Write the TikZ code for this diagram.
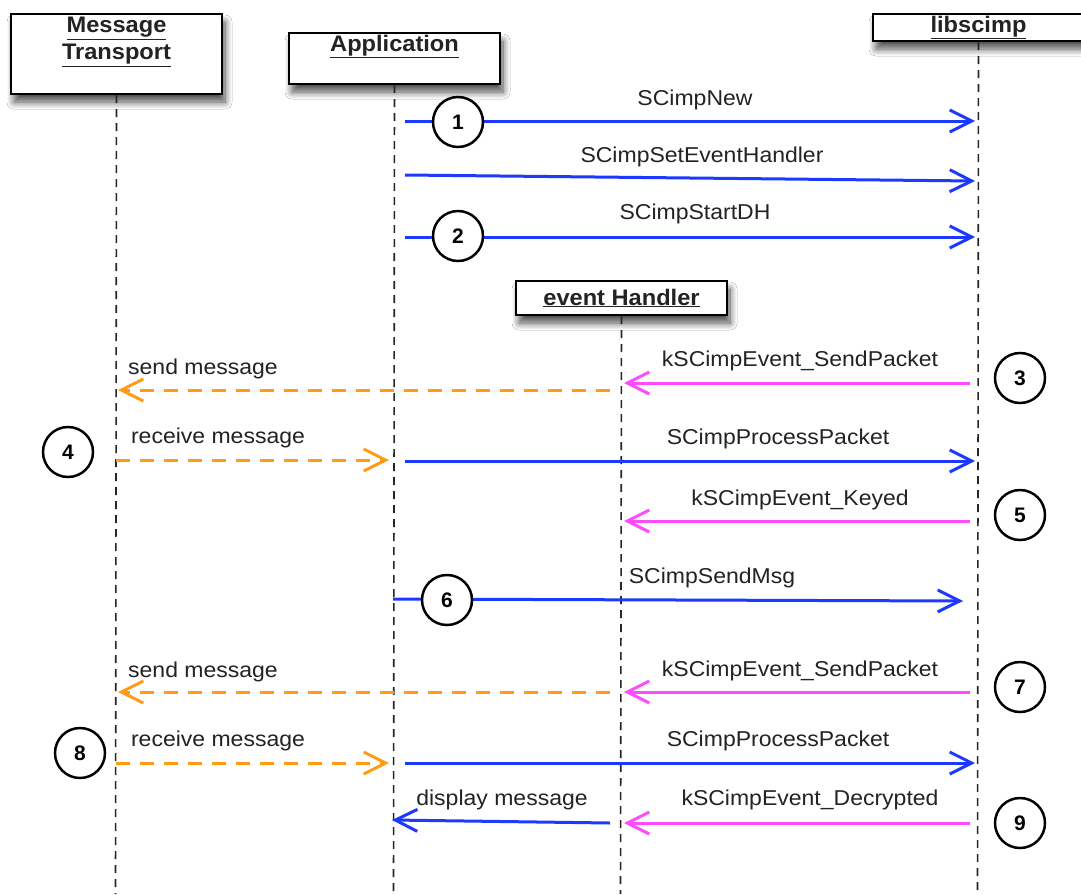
\documentclass[tikz,border=0pt]{standalone}
\usepackage{fontspec}
\setmainfont{Liberation Sans}
\newfontfamily\labfont{Liberation Sans}[FakeStretch=1.07]
\newfontfamily\titfont{Liberation Sans}[FakeStretch=1.05]
\usetikzlibrary{arrows.meta,shadows.blur}
\definecolor{msgblue}{RGB}{28,58,255}
\definecolor{evmag}{RGB}{255,75,255}
\definecolor{transor}{RGB}{255,155,20}
\definecolor{txt}{RGB}{35,35,35}
\newcommand{\ulin}[1]{\underline{#1}}
\begin{document}
\begin{tikzpicture}[x=1pt,y=-1pt,
  actor/.style={draw=black, line width=2pt, fill=white,
    blur shadow={shadow xshift=3pt, shadow yshift=-8pt, shadow blur radius=7pt, shadow blur steps=10, shadow opacity=70},
    minimum width=211pt, inner sep=0pt, anchor=north west},
  title/.style={font=\titfont\bfseries\fontsize{22.5}{25}\selectfont, align=center, inner sep=1pt, text=txt},
  life/.style={black!85, line width=1.6pt, dash pattern=on 8pt off 6pt},
  tip/.style={-{Straight Barb[length=22pt,width=22pt]}},
  callmsg/.style={msgblue, line width=3pt, tip},
  evmsg/.style={evmag, line width=3pt, tip},
  trmsg/.style={transor, line width=3pt, dash pattern=on 14pt off 10pt, tip},
  lab/.style={font=\labfont\fontsize{21.5}{24}\selectfont, text=txt, inner sep=0pt},
  num/.style={circle, draw=black, line width=2.5pt, fill=white, minimum size=50pt, inner sep=0pt, font=\bfseries\fontsize{21}{24}\selectfont}
]
\useasboundingbox[fill=white] (0,0) rectangle (1081,894);

% actors
\node[actor, minimum height=80pt] (mt) at (10,13) {};
\node[title, anchor=north] (mtT) at ([yshift=-3pt]mt.north) {\ulin{Message}\\[2pt]\ulin{Transport}};
\node[actor, minimum height=51pt] (app) at (288,32) {};
\node[title, anchor=north] (appT) at ([yshift=-2pt]app.north) {\ulin{Application}};
\node[actor, minimum height=27pt] (lib) at (872,13) {};
\node[title] (libT) at (lib.center) {\ulin{libscimp}};
\node[actor, minimum height=34pt] (eh) at (515,280) {};
\node[title] (ehT) at (eh.center) {\ulin{event Handler}};

% lifelines
\coordinate (mtB) at (115.5,894);
\coordinate (appB) at (393.5,894);
\coordinate (libB) at (977.5,894);
\coordinate (ehB) at (620.5,894);
\draw[life] (mt.south) -- (mtB);
\draw[life] (app.south) -- (appB);
\draw[life] (lib.south) -- (libB);
\draw[life] (eh.south) -- (ehB);

% message end points
\coordinate (a1s) at (405,121); \coordinate (a1e) at (975,121);
\coordinate (a2s) at (405,175); \coordinate (a2e) at (975,181);
\coordinate (a3s) at (405,237); \coordinate (a3e) at (975,237);
\coordinate (e1s) at (970,383); \coordinate (e1e) at (624,383);
\coordinate (t1s) at (610,390); \coordinate (t1e) at (118,390);
\coordinate (t2s) at (116,460); \coordinate (t2e) at (389,460);
\coordinate (a4s) at (405,461); \coordinate (a4e) at (975,461);
\coordinate (e2s) at (970,521); \coordinate (e2e) at (624,521);
\coordinate (a5s) at (393,599); \coordinate (a5e) at (963,601);
\coordinate (e3s) at (970,692); \coordinate (e3e) at (624,692);
\coordinate (t3s) at (610,692); \coordinate (t3e) at (118,692);
\coordinate (t4s) at (116,763); \coordinate (t4e) at (389,763);
\coordinate (a6s) at (405,763); \coordinate (a6e) at (975,763);
\coordinate (e4s) at (970,823); \coordinate (e4e) at (624,823);
\coordinate (a7s) at (610,823); \coordinate (a7e) at (392,820);

% messages
\draw[callmsg] (a1s) -- (a1e);
\draw[callmsg] (a2s) -- (a2e);
\draw[callmsg] (a3s) -- (a3e);
\draw[evmsg] (e1s) -- (e1e);
\draw[trmsg] (t1s) -- (t1e);
\draw[trmsg] (t2s) -- (t2e);
\draw[callmsg] (a4s) -- (a4e);
\draw[evmsg] (e2s) -- (e2e);
\draw[callmsg] (a5s) -- (a5e);
\draw[evmsg] (e3s) -- (e3e);
\draw[trmsg] (t3s) -- (t3e);
\draw[trmsg] (t4s) -- (t4e);
\draw[callmsg] (a6s) -- (a6e);
\draw[evmsg] (e4s) -- (e4e);
\draw[callmsg] (a7s) -- (a7e);

% labels
\node[lab] (l1) at (695,100) {SCimpNew};
\node[lab] (l2) at (702,157) {SCimpSetEventHandler};
\node[lab] (l3) at (695,214) {SCimpStartDH};
\node[lab] (l4) at (800,361) {kSCimpEvent\_SendPacket};
\node[lab] (l5) at (203,369) {send message};
\node[lab] (l6) at (218,438) {receive message};
\node[lab] (l7) at (778,439) {SCimpProcessPacket};
\node[lab] (l8) at (800,500) {kSCimpEvent\_Keyed};
\node[lab] (l9) at (712,578) {SCimpSendMsg};
\node[lab] (l10) at (800,671) {kSCimpEvent\_SendPacket};
\node[lab] (l11) at (203,672) {send message};
\node[lab] (l12) at (218,741) {receive message};
\node[lab] (l13) at (778,741) {SCimpProcessPacket};
\node[lab] (l14) at (810,800) {kSCimpEvent\_Decrypted};
\node[lab] (l15) at (502,800) {display message};

% step numbers
\node[num] (c1) at (458,122) {1};
\node[num] (c2) at (458,236) {2};
\node[num] (c3) at (1020,378) {3};
\node[num] (c4) at (68,452) {4};
\node[num] (c5) at (1020,515) {5};
\node[num] (c6) at (447,600) {6};
\node[num] (c7) at (1020,687) {7};
\node[num] (c8) at (80,753) {8};
\node[num] (c9) at (1020,823) {9};
\end{tikzpicture}
\end{document}
